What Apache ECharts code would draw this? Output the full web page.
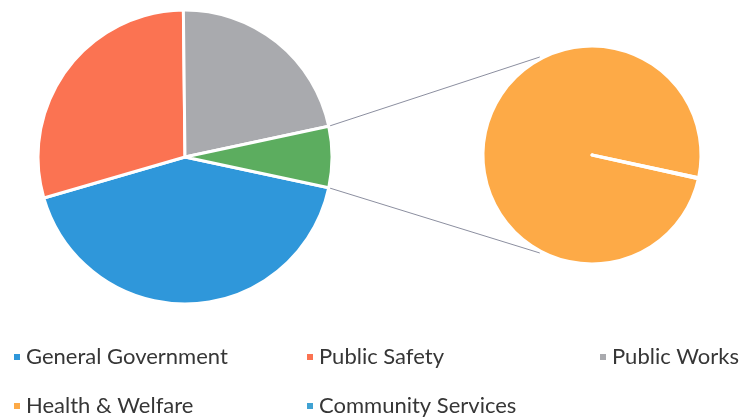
<!DOCTYPE html>
<html>
<head>
<meta charset="utf-8">
<script src="https://cdn.jsdelivr.net/npm/echarts@6/dist/echarts.min.js"></script>
<style>
html,body{margin:0;padding:0;background:#fff;}
#chart{width:739px;height:417px;}
</style>
</head>
<body>
<div id="chart"></div>
<script>
// Data
const mainNames = ['General Government', 'Public Safety', 'Public Works'];
const mainValues = [42.1, 29.3, 21.8];
const subNames = ['Health & Welfare', 'Community Services'];
const subValues = [6.69, 0.01];
const legendNames = ['General Government', 'Public Safety', 'Public Works', 'Health & Welfare', 'Community Services'];

// Styles
const mainColors = ['#2F97DA', '#FB7352', '#A9AAAE'];
const otherColor = '#5CAD5F';
const subColors = ['#FDAA47', '#3FA2D3'];

const C1 = [185, 157], R1 = 147;
const C2 = [592, 155], R2 = 109;

const otherVal = subValues.reduce((a, b) => a + b, 0);
const total = mainValues.reduce((a, b) => a + b, 0) + otherVal;
const half = otherVal / total * 180; // half-angle of split slice in degrees
const startAngle = -half;

const mainData = mainNames.map((n, i) => ({ name: n, value: mainValues[i], itemStyle: { color: mainColors[i] } }));
mainData.push({ name: 'Other', value: otherVal, itemStyle: { color: otherColor } });
const subData = subNames.map((n, i) => ({ name: n, value: subValues[i], itemStyle: { color: subColors[i] } }));

function pt(c, r, deg) {
  const a = deg * Math.PI / 180;
  return [c[0] + r * Math.cos(a), c[1] - r * Math.sin(a)];
}
const p1a = pt(C1, R1, half), p1b = pt(C1, R1, -half);
const connAngle = 118;
const p2a = pt(C2, R2 + 2, connAngle), p2b = pt(C2, R2 + 2, -connAngle);

const textStyle = { fontFamily: 'Lato', fontSize: 22, color: '#363636' };
function leg(name, left, top) {
  return {
    data: [name], left: left, top: top, orient: 'horizontal',
    icon: 'rect', itemWidth: 8, itemHeight: 8, itemGap: 0,
    selectedMode: false, textStyle: textStyle, padding: 0
  };
}

const chart = echarts.init(document.getElementById('chart'), null, { renderer: 'canvas' });
chart.setOption({
  backgroundColor: '#fff',
  animation: false,
  legend: [
    leg(legendNames[0], 12, 346),
    leg(legendNames[1], 305, 346),
    leg(legendNames[2], 598, 346),
    leg(legendNames[3], 12, 395),
    leg(legendNames[4], 305, 395)
  ],
  graphic: [
    { type: 'line', shape: { x1: p1a[0], y1: p1a[1], x2: p2a[0], y2: p2a[1] }, style: { stroke: '#8C8FA0', lineWidth: 1 }, z: 0 },
    { type: 'line', shape: { x1: p1b[0], y1: p1b[1], x2: p2b[0], y2: p2b[1] }, style: { stroke: '#8C8FA0', lineWidth: 1 }, z: 0 }
  ],
  series: [
    {
      type: 'pie', center: C1, radius: R1, startAngle: startAngle, clockwise: true,
      label: { show: false }, labelLine: { show: false }, silent: true,
      itemStyle: { borderColor: '#fff', borderWidth: 3 },
      data: mainData
    },
    {
      type: 'pie', center: C2, radius: R2, startAngle: startAngle, clockwise: false,
      minAngle: 0,
      label: { show: false }, labelLine: { show: false }, silent: true,
      itemStyle: { borderColor: '#fff', borderWidth: 3 },
      data: subData
    }
  ]
});
</script>
</body>
</html>
